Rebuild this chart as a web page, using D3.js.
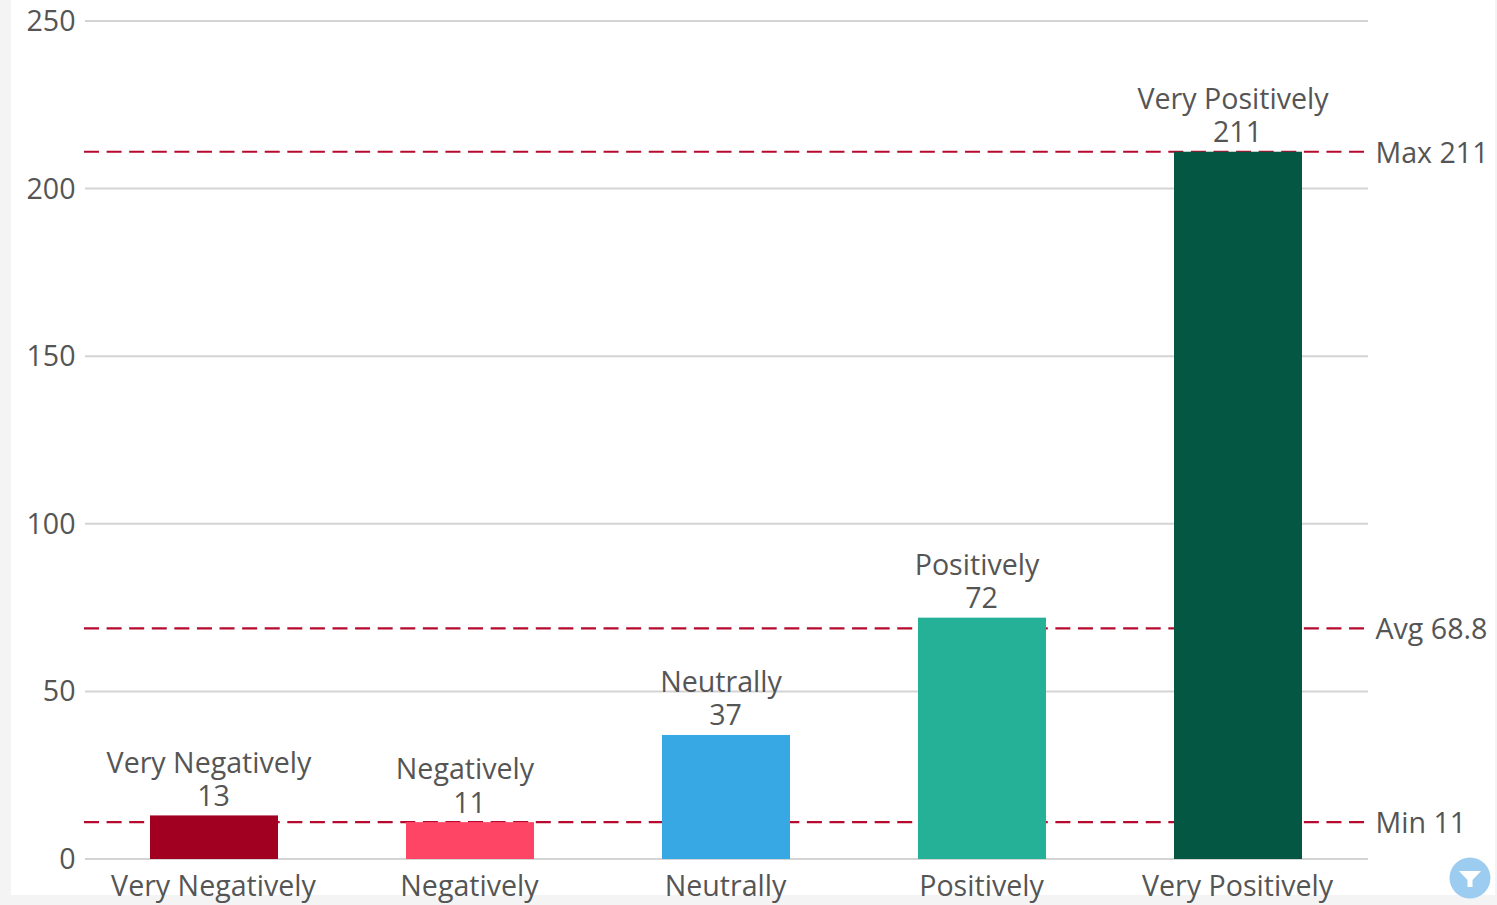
<!DOCTYPE html>
<html><head><meta charset="utf-8">
<script src="https://cdn.jsdelivr.net/npm/d3@7/dist/d3.min.js"></script>
<style>
html,body{margin:0;padding:0;background:#f4f4f4;overflow:hidden}
svg{display:block}
text{font-family:"Open Sans",sans-serif;font-size:28.6px;fill:#555}
</style></head><body>
<svg id="c" width="1497" height="905"></svg>
<script>
const categories=["Very Negatively","Negatively","Neutrally","Positively","Very Positively"];
const values=[13,11,37,72,211];
const colors=["#a10021","#ff4565","#37a8e4","#25b098","#035743"];
const yTicks=[0,50,100,150,200,250];
const markNames=["Max","Avg","Min"];
const markValues=[211,68.8,11];

const svg=d3.select("#c");
svg.append("rect").attr("x",11).attr("y",0).attr("width",1484).attr("height",895).attr("fill","#fff");
const x=d3.scaleBand().domain(categories).range([86,1366]).paddingInner(0.5).paddingOuter(0.25);
const y=d3.scaleLinear().domain([0,250]).range([859,21]);

svg.append("g").selectAll("line").data(yTicks).join("line")
 .attr("x1",85).attr("x2",1368).attr("y1",d=>y(d)).attr("y2",d=>y(d))
 .attr("stroke","#d4d4d4").attr("stroke-width",2);
svg.append("g").selectAll("text").data(yTicks).join("text")
 .attr("x",75.5).attr("y",d=>y(d)+10).attr("text-anchor","end").text(d=>d);

svg.append("g").selectAll("line").data(markValues).join("line")
 .attr("x1",84).attr("x2",1365).attr("y1",d=>y(d)).attr("y2",d=>y(d))
 .attr("stroke","#b70a2f").attr("stroke-width",2.2).attr("stroke-dasharray","15 7.59");

svg.append("g").selectAll("rect").data(values).join("rect")
 .attr("x",(d,i)=>x(categories[i])).attr("width",x.bandwidth())
 .attr("y",d=>y(d)).attr("height",d=>y(0)-y(d))
 .attr("fill",(d,i)=>colors[i]);

svg.append("g").selectAll("text").data(markValues).join("text")
 .attr("x",1375.5).attr("y",d=>y(d)+10.8).text((d,i)=>markNames[i]+" "+d);

const cx=c=>x(c)+x.bandwidth()/2;
svg.append("g").selectAll("text").data(categories).join("text")
 .attr("x",d=>cx(d)-0.5).attr("y",896.2).attr("text-anchor","middle").text(d=>d);

const lab=svg.append("g").selectAll("text").data(values).join("text").attr("text-anchor","middle");
lab.append("tspan").attr("x",(d,i)=>cx(categories[i])-5).attr("y",d=>y(d)-42.8).text((d,i)=>categories[i]);
lab.append("tspan").attr("x",(d,i)=>cx(categories[i])-0.5).attr("y",d=>y(d)-9.5).text(d=>d);

const f=svg.append("g").attr("transform","translate(1470,878)");
f.append("circle").attr("r",20.5).attr("fill","#9ccdf0");
f.append("path").attr("d",d3.line()([[-11,-7],[11,-7],[2.5,2],[2.5,9],[-2.5,9],[-2.5,2]])+"Z").attr("fill","#fff");
</script></body></html>
